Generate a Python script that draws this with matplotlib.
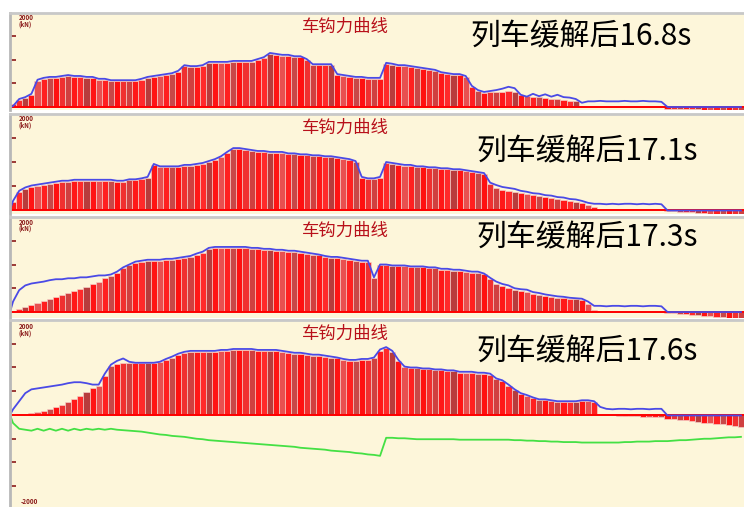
import matplotlib.pyplot as plt
import numpy as np

plt.rcParams['font.family'] = ['Noto Sans CJK SC', 'DejaVu Sans']

# coupler force per car (kN), red bars = force, blue = envelope
force_a = [60, 150, 190, 260, 550, 600, 620, 620, 640, 660,
           640, 640, 620, 620, 580, 580, 550, 550, 550, 550,
           550, 580, 620, 640, 660, 680, 700, 750, 870, 850,
           850, 870, 940, 940, 940, 940, 960, 960, 960, 960,
           1000, 1040, 1130, 1110, 1090, 1090, 1060, 1060, 1000, 890,
           890, 890, 890, 680, 660, 640, 620, 620, 600, 600,
           600, 920, 900, 870, 870, 850, 830, 810, 790, 770,
           720, 700, 680, 680, 640, 430, 340, 300, 320, 320,
           320, 340, 320, 260, 230, 210, 210, 190, 170, 170,
           150, 130, 130, 20, 10, 10, 10, 10, 10, 10,
           10, 10, 10, 10, 10, 10, 10, -40, -40, -50,
           -50, -50, -50, -60, -60, -60, -60, -60, -60, -60]
env_a = [20, 170, 210, 280, 580, 620, 640, 640, 660, 680,
         660, 660, 640, 640, 600, 600, 570, 570, 570, 570,
         570, 600, 640, 660, 680, 700, 720, 770, 890, 870,
         870, 890, 960, 960, 960, 960, 980, 980, 980, 980,
         1020, 1060, 1150, 1130, 1110, 1110, 1080, 1080, 1020, 910,
         910, 910, 910, 700, 680, 660, 640, 640, 620, 620,
         620, 940, 920, 890, 890, 870, 850, 830, 810, 790,
         740, 720, 700, 700, 660, 450, 360, 320, 340, 360,
         390, 430, 400, 260, 220, 280, 230, 270, 220, 260,
         210, 200, 170, 90, 120, 120, 130, 120, 120, 120,
         130, 120, 120, 130, 120, 120, 110, 0, 0, 0,
         0, 0, 0, 0, 0, 0, 0, 0, 0, 0]

force_b = [170, 370, 440, 480, 500, 520, 540, 560, 580, 580,
           600, 600, 600, 600, 600, 600, 600, 580, 580, 620,
           620, 640, 670, 940, 890, 890, 890, 890, 920, 920,
           940, 960, 1000, 1040, 1100, 1190, 1270, 1270, 1250, 1230,
           1210, 1210, 1190, 1190, 1190, 1160, 1160, 1140, 1140, 1120,
           1120, 1100, 1100, 1080, 1060, 1040, 1000, 670, 640, 640,
           670, 980, 960, 940, 920, 920, 890, 890, 870, 870,
           850, 850, 830, 830, 810, 790, 770, 750, 540, 460,
           420, 400, 370, 350, 330, 310, 290, 270, 250, 230,
           210, 190, 170, 150, 100, 60, 10, 10, 10, 10,
           10, 10, 10, 10, 10, 10, 10, -20, -30, -40,
           -50, -50, -60, -70, -80, -80, -90, -100, -110, -110]
env_b = [190, 400, 470, 510, 530, 550, 570, 590, 610, 610,
         630, 630, 630, 630, 630, 630, 630, 610, 610, 640,
         640, 660, 690, 960, 910, 910, 910, 910, 940, 940,
         960, 980, 1020, 1060, 1120, 1210, 1290, 1290, 1270, 1250,
         1230, 1230, 1210, 1210, 1210, 1180, 1180, 1160, 1160, 1140,
         1140, 1120, 1120, 1100, 1080, 1060, 1020, 690, 660, 660,
         690, 1000, 980, 960, 940, 940, 910, 910, 890, 890,
         870, 870, 850, 850, 830, 810, 790, 770, 570, 520,
         480, 460, 440, 400, 380, 350, 340, 310, 300, 270,
         260, 230, 220, 190, 150, 130, 130, 120, 130, 120,
         130, 130, 120, 130, 120, 130, 120, -10, -10, -10,
         -10, -10, -10, -10, -10, -10, -10, -10, -10, -10]

force_c = [20, 60, 100, 150, 190, 230, 270, 310, 350, 400,
           440, 480, 520, 580, 640, 710, 750, 830, 920, 980,
           1040, 1060, 1080, 1080, 1080, 1100, 1100, 1120, 1140, 1160,
           1210, 1250, 1330, 1350, 1350, 1350, 1350, 1350, 1350, 1330,
           1330, 1310, 1310, 1290, 1290, 1270, 1270, 1250, 1230, 1210,
           1190, 1160, 1140, 1140, 1120, 1100, 1080, 1060, 1060, 710,
           980, 980, 960, 960, 960, 940, 940, 940, 920, 920,
           890, 890, 870, 870, 850, 830, 830, 790, 690, 600,
           540, 500, 460, 440, 420, 370, 350, 330, 310, 290,
           290, 270, 270, 250, 170, 40, 20, 20, 20, 20,
           20, 20, 20, 20, 20, 20, 20, -20, -30, -40,
           -50, -60, -70, -80, -90, -100, -110, -120, -130, -130]
env_c = [220, 460, 560, 600, 620, 640, 670, 690, 690, 710,
         710, 730, 730, 750, 770, 770, 790, 850, 940, 1000,
         1060, 1080, 1100, 1100, 1100, 1120, 1120, 1140, 1160, 1180,
         1230, 1270, 1350, 1370, 1370, 1370, 1370, 1370, 1370, 1350,
         1350, 1330, 1330, 1310, 1310, 1290, 1290, 1270, 1250, 1230,
         1210, 1180, 1160, 1160, 1140, 1120, 1100, 1080, 1080, 730,
         1000, 1000, 980, 980, 980, 960, 960, 960, 940, 940,
         910, 910, 890, 890, 870, 850, 850, 810, 720, 640,
         590, 560, 500, 480, 470, 420, 400, 370, 350, 330,
         320, 300, 290, 280, 220, 130, 130, 120, 130, 130,
         120, 130, 130, 120, 130, 130, 120, 0, 0, 0,
         0, 0, 0, 0, 0, 0, 0, 0, 0, 0]

force_d = [10, 20, 20, 40, 60, 80, 120, 170, 210, 270,
           330, 400, 480, 560, 620, 830, 1040, 1080, 1100, 1100,
           1100, 1100, 1100, 1100, 1120, 1160, 1210, 1270, 1310, 1330,
           1330, 1330, 1330, 1330, 1350, 1350, 1370, 1370, 1370, 1370,
           1350, 1350, 1350, 1350, 1330, 1310, 1290, 1290, 1270, 1250,
           1250, 1230, 1210, 1190, 1160, 1140, 1140, 1160, 1160, 1190,
           1350, 1410, 1330, 1140, 1000, 980, 980, 960, 960, 940,
           940, 920, 920, 890, 890, 890, 870, 870, 850, 750,
           710, 620, 520, 440, 400, 350, 310, 310, 290, 270,
           270, 270, 270, 290, 290, 270, 0, -10, -10, -20,
           -20, -30, -30, -40, -40, -50, -50, -80, -90, -100,
           -110, -130, -140, -160, -170, -190, -200, -220, -240, -260]
env_d = [120, 290, 460, 540, 560, 580, 600, 620, 640, 670,
         690, 690, 670, 640, 640, 870, 1060, 1140, 1190, 1120,
         1100, 1100, 1100, 1100, 1120, 1180, 1230, 1290, 1330, 1350,
         1350, 1350, 1350, 1350, 1370, 1370, 1390, 1390, 1390, 1390,
         1370, 1370, 1370, 1370, 1350, 1330, 1310, 1310, 1290, 1270,
         1270, 1250, 1230, 1210, 1180, 1160, 1160, 1180, 1180, 1210,
         1380, 1430, 1350, 1160, 1020, 1000, 1000, 980, 980, 960,
         960, 940, 940, 910, 910, 910, 890, 890, 870, 770,
         730, 640, 540, 460, 420, 370, 330, 330, 310, 290,
         290, 290, 290, 310, 310, 290, 170, 130, 120, 130,
         130, 120, 130, 130, 120, 130, 130, -10, -10, -10,
         -10, -10, -10, -10, -10, -10, -10, -10, -10, -10]
# second trace in the last frame
green_d = [-170, -290, -310, -330, -290, -330, -290, -330, -290, -330,
           -290, -320, -290, -310, -290, -310, -290, -310, -320, -330,
           -340, -350, -370, -390, -410, -420, -440, -450, -460, -480,
           -500, -510, -530, -540, -550, -560, -570, -580, -590, -600,
           -610, -620, -630, -640, -650, -660, -670, -690, -700, -710,
           -720, -730, -750, -760, -770, -780, -800, -810, -830, -840,
           -860, -480, -480, -490, -490, -500, -510, -510, -510, -510,
           -510, -510, -510, -520, -520, -520, -520, -520, -520, -520,
           -520, -520, -530, -530, -540, -540, -550, -550, -560, -560,
           -570, -570, -570, -580, -580, -580, -580, -580, -580, -580,
           -570, -570, -560, -560, -560, -550, -550, -550, -540, -530,
           -530, -520, -510, -500, -500, -490, -480, -470, -470, -460]

forces = [force_a, force_b, force_c, force_d]
envelopes = [env_a, env_b, env_c, env_d]
titles = ['列车缓解后16.8s', '列车缓解后17.1s', '列车缓解后17.3s', '列车缓解后17.6s']

W, H = 744, 507
fig = plt.figure(figsize=(W / 100, H / 100), dpi=100, facecolor='white')

# frame boxes in pixels: top, bottom, lower y-limit
frames = [(13, 110, -64), (114, 214, -83), (217, 318, -126), (320, 507, -1937)]
label_x = [470, 476, 476, 476]
label_y = [37, 152, 238, 352]

stripe = ['#ff1818', '#ff2a2a', '#b83c3c', '#ff1414', '#e85050',
          '#ff2020', '#c84848', '#ff1010', '#f03030', '#d04040']
dark = '#8b1a1a'

for k, (top, bot, ymin) in enumerate(frames):
    ax = fig.add_axes([10 / W, 1 - bot / H, 734 / W, (bot - top) / H])
    ax.set_facecolor('#fdf6da')
    f = forces[k]
    x = np.arange(len(f))
    cols = [stripe[i % len(stripe)] for i in x]
    ax.bar(x, f, width=1.0, color=cols, edgecolor='#f6d2cc', linewidth=0.45)
    ax.axhline(0, color='#ff0000', lw=1.4)
    # envelope starts from the origin at the left edge
    ax.plot(np.r_[-0.5, x], np.r_[0, envelopes[k]], color='#4a4ae6', lw=1.3)
    if k == 3:
        ax.plot(np.r_[-0.5, x], np.r_[0, green_d], color='#44e044', lw=1.3)
        ax.set_yticks([-1500, -1000, -500, 500, 1000, 1500])
        ax.text(0.015, 0.01, '-2000', transform=ax.transAxes, fontsize=4.5,
                color=dark, fontweight='bold', va='bottom')
    else:
        ax.set_yticks([500, 1000, 1500])
    ax.set_xlim(-0.5, len(f) - 0.5)
    ax.set_ylim(ymin, 2000)
    ax.set_xticks([])
    ax.tick_params(axis='y', direction='in', length=4, width=1.2,
                   color=dark, labelleft=False)
    for s in ['right', 'bottom']:
        ax.spines[s].set_visible(False)
    ax.spines['left'].set_color('#b8b8b8')
    ax.spines['left'].set_linewidth(2)
    ax.spines['top'].set_color('#c8c8c8')
    ax.spines['top'].set_linewidth(2)
    ax.text(0.012, 0.985, '2000\n(kN)', transform=ax.transAxes, fontsize=4.5,
            color=dark, fontweight='bold', va='top', linespacing=0.9)
    fig.text(345 / W, 1 - (top + 14) / H, '车钩力曲线', color='#b8101a',
             fontsize=12.5, ha='center', va='center')
    fig.text(label_x[k] / W, 1 - label_y[k] / H, titles[k], color='black',
             fontsize=21.5, ha='left', va='center')

fig.savefig('out.png', dpi=100)
